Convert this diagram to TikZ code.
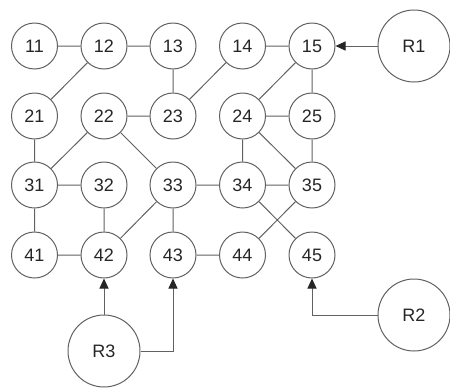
\documentclass[tikz,border=0pt]{standalone}
\usepackage{fontspec}
\setmainfont{Liberation Sans}
\usetikzlibrary{arrows.meta}
\begin{document}
\begin{tikzpicture}[x=1pt,y=-1pt,
  nd/.style={circle,draw=black!62,line width=1pt,minimum size=46pt,inner sep=0pt,font=\fontsize{18}{18}\selectfont,text=black!85},
  rn/.style={nd,minimum size=72pt},
  ln/.style={draw=black!62,line width=1pt},
  ar/.style={ln,-{Triangle[length=10pt,width=9pt,fill=black!85,color=black!85]}}]
\useasboundingbox (0,0) rectangle (450,389);
\foreach \r/\y in {1/46,2/116,3/185,4/255}{
  \foreach \c/\x in {1/34.5,2/104,3/173,4/242.5,5/312}{
    \node[nd] (n\r\c) at (\x,\y) {\r\c};
  }
}
\node[rn] (R1) at (414,46) {R1};
\node[rn] (R2) at (414,315) {R2};
\node[rn] (R3) at (104,351) {R3};
\draw[ln] (n11)--(n12) (n12)--(n13) (n14)--(n15)
  (n12)--(n21) (n13)--(n23) (n23)--(n14) (n22)--(n23) (n15)--(n24) (n15)--(n25) (n24)--(n25)
  (n21)--(n31) (n22)--(n31) (n22)--(n33) (n24)--(n34) (n24)--(n35) (n25)--(n35)
  (n31)--(n32) (n33)--(n34) (n34)--(n35)
  (n31)--(n41) (n32)--(n42) (n33)--(n42) (n33)--(n43) (n41)--(n42) (n43)--(n44)
  (n34)--(n45) (n35)--(n44);
\draw[ar] (R1)--(n15);
\draw[ar] (R3)--(n42);
\draw[ar] (R3.east) -| (n43.south);
\draw[ar] (R2.west) -| (n45.south);
\end{tikzpicture}
\end{document}
